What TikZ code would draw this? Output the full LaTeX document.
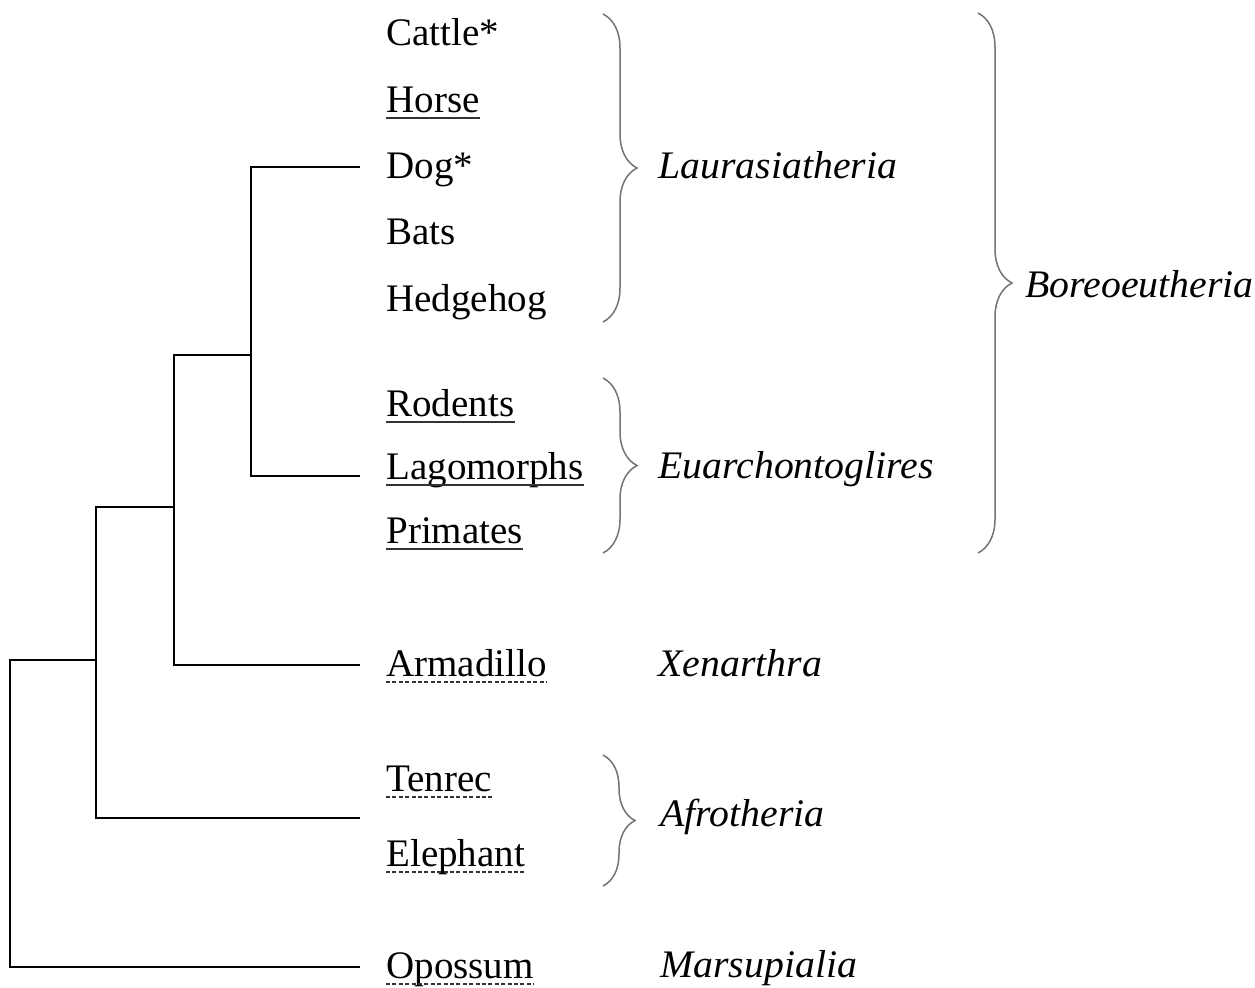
\documentclass[tikz,border=0pt]{standalone}
\usepackage{fontspec}
\setmainfont{Liberation Serif}
\usepackage{tikz}
\usetikzlibrary{calc,decorations.pathreplacing}

\begin{document}
\begin{tikzpicture}[x=0.5pt,y=-0.5pt]
\tikzstyle{every node}=[font=\fontsize{19.5}{23}\selectfont,inner sep=0pt,anchor=base west]
\tikzstyle{clade}=[font=\fontsize{19.5}{23}\selectfont\itshape,xscale=1.02]
\tikzstyle{branch}=[line width=1.4pt,black]
\tikzstyle{uline}=[line width=0.8pt,black!80]
\tikzstyle{dline}=[line width=0.6pt,black!80,dash pattern=on 2pt off 1.2pt]
\tikzstyle{bracket}=[line width=0.75pt,black!55,decorate,decoration={brace,amplitude=#1}]
\useasboundingbox (0,0) rectangle (1255,987);
\node (cattle) at (386,45) {Cattle*};
\node (horse) at (386,112) {Horse};
\node (dog) at (386,178) {Dog*};
\node (bats) at (386,244) {Bats};
\node (hedgehog) at (386,311) {Hedgehog};
\node (rodents) at (386,416) {Rodents};
\node (lagomorphs) at (386,479) {Lagomorphs};
\node (primates) at (386,543) {Primates};
\node (armadillo) at (386,676) {Armadillo};
\node (tenrec) at (386,791) {Tenrec};
\node (elephant) at (386,866) {Elephant};
\node (opossum) at (386,978) {Opossum};
\foreach \n in {horse,rodents,lagomorphs,primates}
  \draw[uline] ([yshift=-3pt]\n.base west) -- ([yshift=-3pt]\n.base east);
\foreach \n in {armadillo,tenrec,elephant,opossum}
  \draw[dline] ([yshift=-3pt]\n.base west) -- ([yshift=-3pt]\n.base east);
\node[clade] (laur) at (658,178) {Laurasiatheria};
\node[clade] (euarch) at (658,478) {Euarchontoglires};
\node[clade] (xen) at (658,676) {Xenarthra};
\node[clade] (afro) at (660,826) {Afrotheria};
\node[clade] (mars) at (660,977) {Marsupialia};
\node[clade] (boreo) at (1025,297) {Boreoeutheria};
\draw[bracket=17pt] (603,14) -- (603,322);
\draw[bracket=17pt] (603,378) -- (603,553);
\draw[bracket=16pt] (603,755) -- (603,886);
\draw[bracket=17pt] (978,13) -- (978,553);
\coordinate (tdog) at (360,167);
\coordinate (tlago) at (360,476);
\coordinate (tarma) at (360,665);
\coordinate (tafro) at (360,818);
\coordinate (topos) at (360,967);
\coordinate (nboreo) at (251,355);
\coordinate (neuth) at (174,507);
\coordinate (nplac) at (96,660);
\coordinate (nroot) at (10,660);
\draw[branch] (tdog) -| (nboreo) |- (tlago);
\draw[branch] (nboreo) -| (neuth) |- (tarma);
\draw[branch] (neuth) -| (nplac) |- (tafro);
\draw[branch] (nplac) -- (nroot) |- (topos);
\end{tikzpicture}
\end{document}
